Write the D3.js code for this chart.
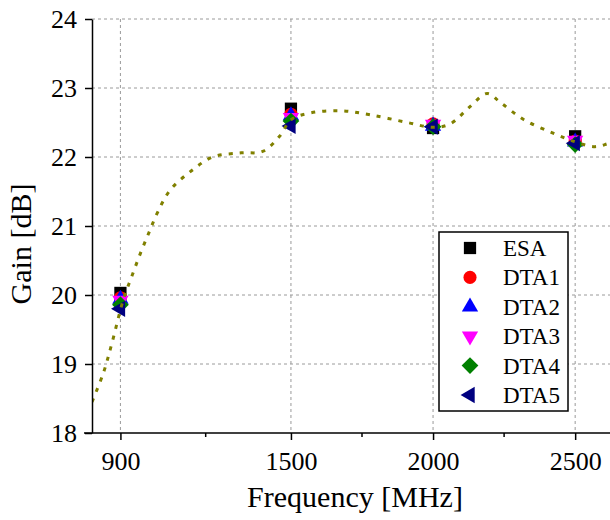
<!DOCTYPE html>
<html>
<head>
<meta charset="utf-8">
<script src="https://cdn.jsdelivr.net/npm/d3@7"></script>
<style>
  body { margin: 0; background: #fff; }
  svg { display: block; }
  svg text { font-family: "Liberation Serif", "DejaVu Serif", serif; }
</style>
</head>
<body>
<script>
// measured points (MHz / dB)
const freqs = [900, 1500, 2000, 2500];
const esa  = [20.03, 22.70, 22.42, 22.30];
const dta1 = [19.96, 22.62, 22.48, 22.23];
const dta2 = [19.94, 22.60, 22.45, 22.22];
const dta3 = [19.92, 22.57, 22.47, 22.24];
const dta4 = [19.86, 22.52, 22.44, 22.18];
const dta5 = [19.80, 22.45, 22.44, 22.20];

// simulated curve
const simFreq = [800, 840, 870, 910, 940, 970, 1000, 1030, 1075, 1150, 1225, 1325, 1400, 1460, 1500,
                 1570, 1680, 1780, 1910, 2000, 2060, 2130, 2190, 2240, 2320, 2420, 2500, 2570, 2620, 2700];
const simGain = [18.45, 18.87, 19.30, 19.93, 20.27, 20.60, 20.90, 21.19, 21.52, 21.80, 22.00, 22.06, 22.08, 22.30, 22.54,
                 22.64, 22.67, 22.61, 22.50, 22.43, 22.48, 22.73, 22.92, 22.78, 22.54, 22.35, 22.22, 22.15, 22.20, 22.30];

const xMajor = [900, 1500, 2000, 2500];
const xMinor = [1200, 1750, 2250];
const yTicks = [18, 19, 20, 21, 22, 23, 24];

const series = [
    { name: 'ESA',  values: esa,  color: '#000000', shape: d3.symbolSquare,   size: 150, rot: 0 },
    { name: 'DTA1', values: dta1, color: '#ff0000', shape: d3.symbolCircle,   size: 135, rot: 0 },
    { name: 'DTA2', values: dta2, color: '#0000ff', shape: d3.symbolTriangle, size: 115, rot: 0 },
    { name: 'DTA3', values: dta3, color: '#ff00ff', shape: d3.symbolTriangle, size: 115, rot: 180 },
    { name: 'DTA4', values: dta4, color: '#008000', shape: d3.symbolSquare,   size: 140, rot: 45 },
    { name: 'DTA5', values: dta5, color: '#000080', shape: d3.symbolTriangle, size: 115, rot: -90 }
];

const W = 610, H = 520;
const mLeft = 92, mTop = 19, mBottom = 433;
const serif = '"Liberation Serif", "DejaVu Serif", serif';

let x = d3.scaleLinear().domain([800, 2700]).range([mLeft, 632]);
let y = d3.scaleLinear().domain([18, 24]).range([mBottom, mTop]);

let svg = d3.select('body').append('svg').attr('width', W).attr('height', H)
    .attr('font-family', serif);

svg.append('clipPath').attr('id', 'plot')
    .append('rect').attr('x', mLeft).attr('y', mTop - 5).attr('width', W - mLeft).attr('height', mBottom - mTop + 5);

// grid
let grid = svg.append('g').attr('stroke', '#9a9a9a').attr('stroke-width', 1).attr('stroke-dasharray', '3,3');
grid.selectAll('line.gx').data(xMajor).enter().append('line')
    .attr('x1', d => x(d)).attr('x2', d => x(d)).attr('y1', mTop).attr('y2', mBottom);
grid.selectAll('line.gy').data(yTicks.slice(1)).enter().append('line')
    .attr('y1', d => y(d)).attr('y2', d => y(d)).attr('x1', mLeft).attr('x2', W);

// markers
let pts = svg.append('g');
series.forEach(s => {
    pts.selectAll(null).data(s.values).enter().append('path')
        .attr('d', d3.symbol().type(s.shape).size(s.size))
        .attr('transform', (d, i) => `translate(${x(freqs[i])},${y(d)}) rotate(${s.rot})`)
        .attr('fill', s.color);
});

// simulated dotted curve
let line = d3.line().x((d, i) => x(simFreq[i])).y(d => y(d)).curve(d3.curveCatmullRom);
svg.append('path').datum(simGain)
    .attr('clip-path', 'url(#plot)')
    .attr('d', line)
    .attr('fill', 'none')
    .attr('stroke', '#808000')
    .attr('stroke-width', 3)
    .attr('stroke-dasharray', '4,7');

// y axis
let yAxis = svg.append('g').attr('transform', `translate(${mLeft},0)`)
    .call(d3.axisLeft(y).tickValues(yTicks).tickFormat(d3.format('d')).tickSize(7).tickSizeOuter(0).tickPadding(8));
yAxis.attr('font-family', serif).attr('font-size', 26);
yAxis.select('.domain').attr('stroke-width', 1.5);
yAxis.selectAll('.tick line').attr('stroke-width', 1.5);
yAxis.selectAll('text').attr('fill', '#000');

// x axis
let xAxis = svg.append('g').attr('transform', `translate(0,${mBottom})`)
    .call(d3.axisBottom(x).tickValues(xMajor).tickFormat(d3.format('d')).tickSize(7).tickSizeOuter(0).tickPadding(12));
xAxis.attr('font-family', serif).attr('font-size', 26);
xAxis.select('.domain').attr('d', `M${mLeft - 8},0H${W}`).attr('stroke-width', 1.5);
xAxis.selectAll('.tick line').attr('stroke-width', 1.5);
xAxis.selectAll('text').attr('fill', '#000');
xAxis.selectAll('line.minor').data(xMinor).enter().append('line')
    .attr('x1', d => x(d)).attr('x2', d => x(d)).attr('y1', 0).attr('y2', 4)
    .attr('stroke', '#000').attr('stroke-width', 1.5);

// axis titles
svg.append('text').attr('x', (mLeft + W) / 2 + 4).attr('y', 507)
    .attr('text-anchor', 'middle').attr('font-size', 30).text('Frequency [MHz]');
svg.append('text').attr('transform', `translate(31,${(mTop + mBottom) / 2 + 18}) rotate(-90)`)
    .attr('text-anchor', 'middle').attr('font-size', 30).text('Gain [dB]');

// legend
let lg = svg.append('g').attr('transform', 'translate(439,232)');
lg.append('rect').attr('width', 129).attr('height', 179)
    .attr('fill', '#fff').attr('stroke', '#000').attr('stroke-width', 1.5);
let rows = lg.selectAll('g.row').data(series).enter().append('g')
    .attr('transform', (d, i) => `translate(0,${16 + i * 29.4})`);
rows.append('path')
    .attr('d', d => d3.symbol().type(d.shape).size(d.size)())
    .attr('transform', d => `translate(31,0) rotate(${d.rot})`)
    .attr('fill', d => d.color);
rows.append('text').attr('x', 64).attr('dy', '0.35em')
    .attr('font-size', 23).text(d => d.name);
</script>
</body>
</html>
